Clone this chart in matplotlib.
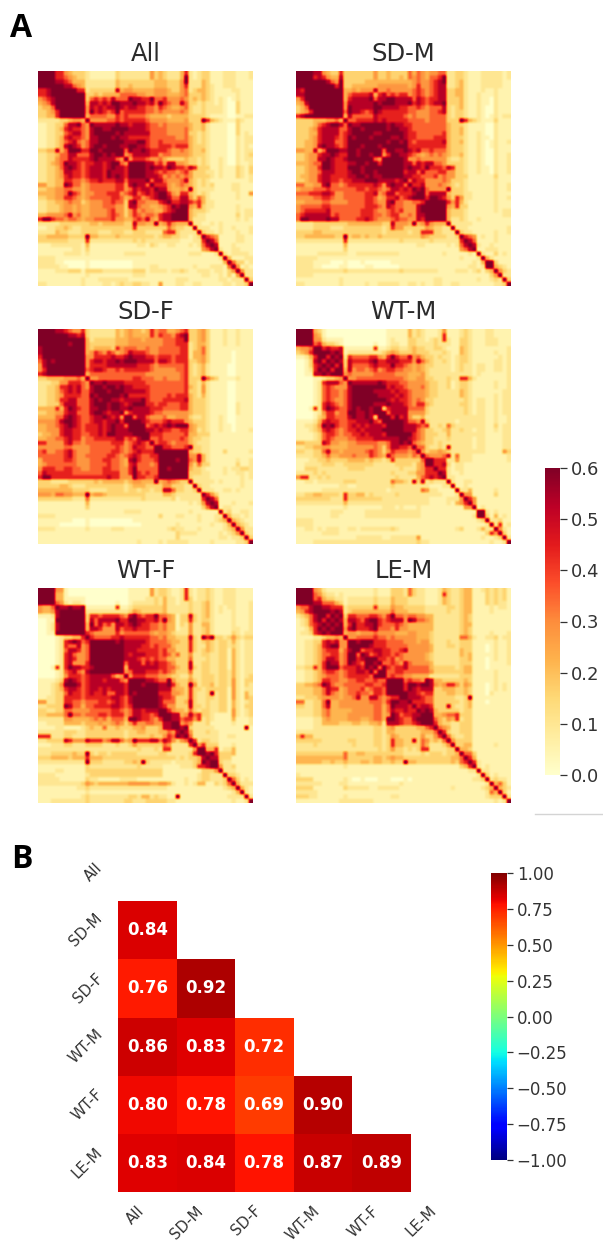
import numpy as np
import matplotlib
matplotlib.use("Agg")
import matplotlib.pyplot as plt
from matplotlib.lines import Line2D

W, H = 603, 1243
panel_names = ["All", "SD-M", "SD-F", "WT-M", "WT-F", "LE-M"]
# Lower triangles of the symmetric similarity matrices; one digit per cell, read through digit_values
digit_values = [0.0, 0.05, 0.1, 0.16, 0.22, 0.28, 0.35, 0.44, 0.53, 0.6]
tri_all = ["9","99","999","9999","77899","778999","5678999","45689999","344699999","3345799999","33447999999",
"222223345549","1122336889 659","1122347877 6589","1122336788 65899","1122347877 658899","1122346786 5688999",
"1122348987 56899899","3344846999 779989999","2233466886 6689989899","2233566877 77898888659","2234569887 677887899659",
"2233468987 6788878988799","2233458877 67888798887999","2233457877 678887989879999","2233447766 5677877788688889",
"5533449866 45666666775898869","3344556655 456666667756878879","4444556976 4556667775678678789","3344557765 45666667764577567899",
"2233445655 3455566766 38966555789","2233345545 4455566655 388655445678 9",
"2233345545 4455556755 3575655446 789","4455556856 4455556765 35765665788999","7997665665 4556666755 446768547889999",
"2222233333 3344344444 3385544945 754449","1122334322 3333333333 3373333333 6433229","2222433222 3333222333 2233322226 77322229",
"3344444333 3944333343 3333333234 4332212 39","3333333222 2722222222 2232322222 222111227 9","1112222222 1411111111 1112213211 2211121 2689",
"1111111122 1311111111 1111111111 11111111 5689",
"1111112222 1211111111 2222211111 1111122211 122","2222111111 1111111111 1111111111 1111111111 1129",
"2222110000 0100000000 0011111111 1111111111 11149","2222211000 0100000000 0011112211 1111112111 222169",
"1111222333 1333322222 2233312222 1223211222 1221359","1111111111 1211111111 1122211111 1111111122 11213159",
"1111111111 2111222222 2111111111 1122211111 112212229","2211111111 2111122123 2233221151 1122112211 1112212239"]
tri_sdm = ["9","99","999","9999","87999","889999","5799999","45899999","346999999","3457999999","78999999999",
"333344455649","3333467899 869","3334578888 6689","3334478888 67899","3334578887 679899","3344578886 6799999",
"3344589887 67999899","5544846999 889989999","3345578898 7799899899","3345588987 78999999659","4445669987 778899899799",
"3345579987 7799989999999","3345568887 77899899899999","3445578877 778899898899999","3345578877 6778889998888789",
"6644558966 56777777875898869","4555666766 666677677656887879","6667778875 5666667785688677789","5555667765 56666677645778678 99",
"4455556655 5566667765 58966556678","5666667766 6666667776 587665558999","5677777866 6666677765 5676755589999",
"6788888867 6666677766 5677556588999 9","6998888988 6666778765 556766558799999",
"2222333333 3344444444 3385554945 754449","2222333322 2333333333 2375533333 5433229","3333443333 3333333333 2333332337 77332229",
"3344444443 3934434334 3333333335 4333322 39","2222222222 2722222222 2222322222 23222222 79",
"1111111111 1411111111 1111111122 1111121 2689","1111111111 1311111111 1111111111 11111111 5689",
"1111122222 2211222222 2222111111 1111211111 212","2222211111 1111111111 1111111111 1111111121 1129",
"2222111100 0100010000 0011111111 1111111111 12149",
"2222110000 1100001100 0000111111 1111111111 221299","2222222222 2322222222 2222322222 2221111222 1231349",
"2222111111 1111111111 1111111111 1111111111 11111359","1111111111 2111111111 1111111111 1122111111 112112329",
"2211111111 2111112112 2222112212 1122112211 1111112239"]
tri_sdf = ["9","99","999","9999","89999","899999","7999999","68989999","589999999","5799999999","78999999999",
"334444555649","2223355777 659","2233477878 6589","2233467878 66899","2233457777 669899","2233477886 6689899",
"2233368886 66899989","4444747987 668899899","3344557886 6689987889","4444668987 66788987859","5555689987 667887889799",
"4455678987 6777878988699","4455578877 67778789888999","3445578877 667787998888999","4455667877 5667777788676899",
"7755557866 56666667775678769","5555556655 556666667656877669","6755667865 5566666776 567877799","6666667865 5666667765 6787667799",
"4666667765 5566677665 48976667999","4566666665 5566667665 478666569999","5777667766 5566677665 5796666699899",
"6877777766 6666677775 5797676699999 9","7997777777 7777778775 559776679999999",
"3332222333 3334344444 3455444945 654339","3333344322 2333333333 2344433335 5333229","4444444433 3322223333 2332332338 86332239",
"5554665544 4945543333 3333322224 4322222 29","3333333322 2622222222 2222322222 23122222 79",
"1111111111 1411111111 1111111111 1111121 2589","1111111111 1311111111 1111111111 11111111 3689",
"1111111111 1111111111 2222111111 1111121111 112","2222111111 1111111111 1111111131 1122111211 1229",
"1111111100 0100000000 0011111111 1111111211 12349","1111100000 0100000000 0000111111 1121111111 211249",
"2222111111 1211111222 1111111111 2322111211 1112349","1111111111 1111111111 1111111111 1132222111 11212359",
"1111111111 1111111111 1111111111 1131111111 112212239","1111111111 1111111111 1112111121 2222211111 2111112239"]
tri_wtm = ["9","99","999","9999","45569","345799","1124799","00138979","001378989","0012798979","00118898999",
"000011233459","0000127888 659","0000126765 5589","0000126766 56899","0000126766 568999","0000126765 5689999",
"0000127876 56899999","0001727987 668989989","0000125775 6699889899","0000134776 66898898399","1111247877 667788897699",
"1122359897 6678787888799","1112347876 56778788889999","1111236776 566778788879999","1111236765 5566777788 888899",
"4433338755 44556666655688989","2233445544 4455555565 36887767 9","3322336855 4555556765 357666567 9","2222334644 5556555765 486555465799",
"1112233433 3344443433 2373333336 9","1122223332 2333333322 2223333245 99","1133322222 2233332222 2222322245 779",
"2222323222 2222222222 2232223355 7779","5772232322 2222222222 2223222246 78789",
"1122122222 2333222222 2264432838 232229","1111111111 2211222222 2232222222 2111229","1111112222 2222222222 2122222226 52211119",
"2233443333 2733442322 2223222222 222211129","3333333322 2733333333 2222222222 2111122259",
"2222222222 2422222222 2222222222 211112145 79","1111111111 1211111111 2221211121 1111111115 579",
"1111111122 2111112222 2222222221 1111111111 112","1111111122 1111112222 2222222221 1111111111 1299",
"2222111111 1111111111 1111111111 1111111111 11239","2222111111 1111111111 1111111111 1111111111 111129",
"1122121222 1122122222 2232111111 1111111231 1124229","1111112222 1111111111 1111111111 1111111111 11113759",
"1111111111 1111222222 1122222251 1111111111 111211239","1111222222 2222222222 2222222232 2111111111 1111121129"]
tri_wtf = ["9","99","999","9999","54469","544589","1112899","00119999","001289999","0012899999","00119999999",
"000012334479","0000127898 679","0000127668 5699","0000126887 56999","0000127865 569999","0000127875 5699999",
"0000127855 57999999","0001727988 778999999","0000126786 5899999999","0000125777 67888886459","1111238987 678887888659",
"1112359998 6788888888799","1112347887 67887878887999","1112336877 678778668879899","1122337777 6777777887689999",
"5522337766 56667767876899999","2233339866 466777788767999999","3322336655 5566666776568878889","3344446966 56667767775688776799",
"2222225544 44565646664998776579 9","1122224444 3444544565 35755665588 9","1111221111 2343363343 33445333488 99",
"2222223332 2333333333 2334433344 6589","7772223322 2333333333 2333334335 76989",
"2233338755 5877756886 4597778868 753569","1112223322 2333322232 2353333336 5222279","2222222222 2222222222 2223222327 72222259",
"2223333343 3932332333 3332222233 2222237 9","3334444344 4744433333 3333333333 3323233489",
"2222222222 2933322222 3343932222 212222349 89","1111111111 1322222222 2223222221 111222 37789",
"1111221111 1333333333 3333333331 1111111133 35 59","2222111111 1233333333 3333333331 1111111233 222489",
"2222211111 1322111112 2221111111 1111211233 222359","2222222222 3543444444 4555554455 4211212441 132369",
"1111111112 2322222222 2222222222 1111111111 1112349","1111111111 1211111111 1111111111 1111111111 11111249",
"1111111111 2322222222 2332442322 1191111111 111122229","1112222222 2322222222 3322233333 2211111111 1111121129"]
tri_lem = ["9","99","999","9999","56689","457899","2346899","12368979","123678989","1124798989","12237898999",
"111122344549","1122337878 559","1122347899 5599","1122346777 46899","1122346677 569969","1122346887 5699789",
"1122347988 56987699","2233747999 677787989","1122346776 5677887969","1122345666 56777776999","1122347766 556677667669",
"3344569865 5666667766799","3333446877 45666756776999","3333446865 456676657769999","2233345555 4556855886567799",
"6622336944 55555556665799887","3322336844 555555556646988879","2222335644 4445555566468778779","2222335644 4455555566 459867788",
"1111224544 4455544566 49987668999","1111224444 3334433445 288876678999","1111222222 2222222233 2453333344679",
"2222222222 2222222233 2443333334 4469","4744222222 2222222233 2354333335 33579",
"3333332222 2233222233 2374433836 534369","2222322222 2223222233 2374433336 4222359","2222222222 2222222223 2353323237 72222339",
"3333333333 3633443333 3333322223 2333233 49","4444444444 4633333344 3454433333 33333344 69",
"4444443343 3433344344 3343394433 333333 43679","1111111111 1211111111 1111111111 11111111 3479",
"1111111111 1111111111 1111111111 1111111111 223","2111111111 1111111111 1111111111 1111111111 1129",
"3333111111 1210010001 1100010111 1111111111 12239","2222221111 2211111111 1111211111 1111111111 111129",
"3333111111 1322222112 2222111111 1111112111 1112349","2222211111 1111111111 1111111111 1111111111 11112649",
"3332211111 1211111111 1122111111 1111111111 111123339","1111111111 2222222211 1111111111 1111111111 1111112129"]
tri_list = [tri_all, tri_sdm, tri_sdf, tri_wtm, tri_wtf, tri_lem]

sim_labels = ["All", "SD-M", "SD-F", "WT-M", "WT-F", "LE-M"]
sim_rows = [[0.84], [0.76, 0.92], [0.86, 0.83, 0.72], [0.80, 0.78, 0.69, 0.90], [0.83, 0.84, 0.78, 0.87, 0.89]]
cb1_ticks = [0.0, 0.1, 0.2, 0.3, 0.4, 0.5, 0.6]
cb2_ticks = [-1.0, -0.75, -0.5, -0.25, 0.0, 0.25, 0.5, 0.75, 1.0]

TXT = "#333333"
fig = plt.figure(figsize=(W / 100, H / 100), dpi=100)

def pxax(x0, y0, x1, y1):
    return fig.add_axes([x0 / W, 1 - y1 / H, (x1 - x0) / W, (y1 - y0) / H])

def build(tri):
    n = len(tri)
    m = np.zeros((n, n))
    for i, s in enumerate(tri):
        s = s.replace(" ", "")
        s = (s + "1" * n)[: i + 1]
        for j, c in enumerate(s):
            m[i, j] = m[j, i] = digit_values[int(c)]
        m[i, i] = 0.6
    return m

lefts = [38, 296]
tops = [71, 329, 588]
SIZE = 215
im = None
for k, (name, tri) in enumerate(zip(panel_names, tri_list)):
    x0 = lefts[k % 2]
    y0 = tops[k // 2]
    ax = pxax(x0, y0, x0 + SIZE, y0 + SIZE)
    im = ax.imshow(build(tri), cmap="YlOrRd", vmin=0, vmax=0.6, aspect="auto", interpolation="hanning")
    ax.axis("off")
    fig.text((x0 + SIZE / 2) / W, 1 - (y0 - 10) / H, name, ha="center", va="baseline", fontsize=17.5, color="#2b2b2b")

cax = pxax(545, 468, 560, 775)
cb = fig.colorbar(im, cax=cax, ticks=cb1_ticks)
cb.outline.set_visible(False)
cb.ax.set_yticklabels([f"{t:.1f}" for t in cb1_ticks])
cb.ax.tick_params(length=5, width=0.9, labelsize=13, labelcolor=TXT, color=TXT, pad=3)

fig.add_artist(Line2D([535 / W, 1], [1 - 813.5 / H] * 2, color="#d4d4d4", lw=1))

axb = pxax(118, 843, 469, 1192)
n = len(sim_labels)
grid = np.ma.masked_all((n, n))
for i, row in enumerate(sim_rows):
    for j, v in enumerate(row):
        grid[i + 1, j] = v
        axb.text(j + 0.5, i + 1.5, f"{v:.2f}", ha="center", va="center", color="white", fontweight="bold", fontsize=12)
imb = axb.pcolormesh(np.arange(n + 1), np.arange(n + 1), grid, cmap="jet", vmin=-1, vmax=1)
axb.set_ylim(n, 0)
axb.set_xlim(0, n)
axb.set_xticks(np.arange(n) + 0.5)
axb.set_yticks(np.arange(n) + 0.5)
axb.set_xticklabels(sim_labels, rotation=45, ha="right", fontsize=10.8, color=TXT)
axb.set_yticklabels(sim_labels, rotation=45, va="center", ha="right", fontsize=10.8, color=TXT)
axb.tick_params(axis="x", length=0, pad=8)
axb.tick_params(axis="y", length=0, pad=9)
for s in axb.spines.values():
    s.set_visible(False)

caxb = pxax(491, 873, 507, 1160)
cbb = fig.colorbar(imb, cax=caxb, ticks=cb2_ticks)
cbb.outline.set_visible(False)
cbb.ax.set_yticklabels([f"{t:.2f}".replace("-", "\u2212") for t in cb2_ticks])
cbb.ax.tick_params(length=4, width=0.9, labelsize=12, labelcolor=TXT, color=TXT, pad=3)

fig.text(10 / W, 1 - 37 / H, "A", fontsize=23, fontweight="bold", family="Open Sans", color="black")
fig.text(11 / W, 1 - 868 / H, "B", fontsize=23, fontweight="bold", family="Open Sans", color="black")

fig.savefig("out.png", dpi=100)
